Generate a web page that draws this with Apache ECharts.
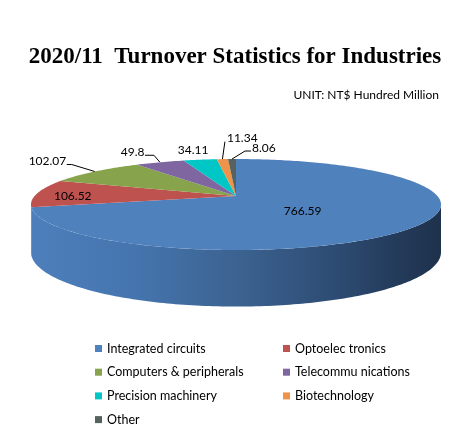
<!DOCTYPE html>
<html>
<head>
<meta charset="utf-8">
<script src="https://cdn.jsdelivr.net/npm/echarts@6/dist/echarts.min.js"></script>
<style>
  html, body { margin: 0; padding: 0; background: #fff; }
  #main { width: 470px; height: 440px; }
</style>
</head>
<body>
<div id="main"></div>
<script>
// data
const categories = ['Integrated circuits', 'Optoelec tronics', 'Computers & peripherals',
  'Telecommu nications', 'Precision machinery', 'Biotechnology', 'Other'];
const values = [766.59, 106.52, 102.07, 49.8, 34.11, 11.34, 8.06];
const valueLabels = ['766.59', '106.52', '102.07', '49.8', '34.11', '11.34', '8.06'];

// look
const colors = ['#4F81BD', '#BE524F', '#87A34B', '#7F66A1', '#00C6C6', '#F0934A', '#56625F'];
const sideColors = [null, '#A8433F', '#6F873C', '#67528A', '#00A0A0', '#C9773A', '#444E4C'];

// 3d pie geometry (perspective ellipse, angles clockwise from 12 o'clock)
const CX = 236, CY = 196, RX = 201.4, RY = 43.9, P = 0.187, H = 46;
const FRONT_L = Math.acos(-P) * 180 / Math.PI;   // right silhouette
const FRONT_R = 360 - FRONT_L;                   // left silhouette

// label placement relative to the slice edge point at the mid angle
const labelPlacement = [
  { inside: 0.4, text: [0, 4], align: 'center' },
  { inside: 0.8, text: [-4, 2], align: 'center' },
  { line: [[-23, -7], [-28, -7]], text: [-28.5, -10], align: 'right' },
  { line: [[-6, -7], [-15, -7]], text: [-15.5, -10], align: 'right' },
  { text: [-7, -10], align: 'center' },
  { line: [[2.5, -17.5]], text: [4.5, -21], align: 'left' },
  { line: [[13, -8], [19, -8]], text: [20, -10.5], align: 'left' }
];

const total = values.reduce((a, b) => a + b, 0);
const starts = [];
let acc = 0;
values.forEach(v => { starts.push(acc / total * 360); acc += v; });

function proj(deg, f, down) {
  const t = deg * Math.PI / 180;
  const s = 1 / (1 + P * f * Math.cos(t));
  return [CX + RX * f * Math.sin(t) * s, CY - RY * f * Math.cos(t) * s + (down || 0) * s];
}

function arc(a1, a2, f, down) {
  const pts = [];
  const n = Math.max(2, Math.ceil(Math.abs(a2 - a1)));
  for (let k = 0; k <= n; k++) pts.push(proj(a1 + (a2 - a1) * k / n, f, down));
  return pts;
}

const blueSide = new echarts.graphic.LinearGradient(CX - 205, 0, CX + 205, 0, [
  { offset: 0, color: '#4D7FBC' },
  { offset: 0.25, color: '#4575AE' },
  { offset: 0.5, color: '#3C6391' },
  { offset: 0.75, color: '#2D4B72' },
  { offset: 0.9, color: '#233A59' },
  { offset: 1, color: '#1E324D' }
], true);

function renderSlice(i) {
  const a1 = starts[i];
  const a2 = a1 + values[i] / total * 360;
  const children = [];

  // front wall
  const s1 = Math.max(a1, FRONT_L), s2 = Math.min(a2, FRONT_R);
  if (s2 > s1) {
    const top = arc(s1, s2, 1, 0);
    const bottom = arc(s2, s1, 1, H);
    children.push({
      type: 'polygon', z2: 1,
      shape: { points: top.concat(bottom) },
      style: { fill: i === 0 ? blueSide : sideColors[i], stroke: null }
    });
  }

  // top face
  children.push({
    type: 'polygon', z2: 2,
    shape: { points: [proj(0, 0)].concat(arc(a1, a2, 1, 0)) },
    style: { fill: colors[i], stroke: null }
  });

  // label
  const mid = (a1 + a2) / 2;
  const lp = labelPlacement[i];
  const base = lp.inside ? proj(mid, lp.inside) : proj(mid, 1);
  if (lp.line) {
    const pts = [base].concat(lp.line.map(d => [base[0] + d[0], base[1] + d[1]]));
    children.push({
      type: 'polyline', z2: 4,
      shape: { points: pts },
      style: { stroke: '#000', lineWidth: 1, fill: null }
    });
  }
  children.push({
    type: 'text', z2: 5,
    style: {
      text: valueLabels[i],
      x: base[0] + lp.text[0],
      y: base[1] + lp.text[1],
      fill: '#000',
      font: '12px Lato',
      align: lp.align,
      verticalAlign: 'middle'
    }
  });

  return { type: 'group', children: children };
}

const legendStyle = {
  orient: 'vertical',
  top: 342,
  padding: 0,
  itemWidth: 7,
  itemHeight: 7,
  itemGap: 10.7,
  icon: 'rect',
  selectedMode: false,
  textStyle: { fontFamily: 'Lato', fontSize: 12.5, color: '#000' }
};

const option = {
  animation: false,
  backgroundColor: '#fff',
  color: colors,
  title: {
    text: '2020/11  Turnover Statistics for Industries',
    left: 'center',
    top: 41,
    padding: [5, 10, 5, 5],
    textStyle: { fontFamily: 'Liberation Serif', fontWeight: 'bold', fontSize: 23, color: '#000' }
  },
  graphic: [{
    type: 'text',
    right: 31,
    top: 89,
    style: { text: 'UNIT: NT$ Hundred Million', font: '12px Lato', fill: '#000' }
  }],
  legend: [
    Object.assign({ left: 95, data: [categories[0], categories[2], categories[4], categories[6]] }, legendStyle),
    Object.assign({ left: 283, data: [categories[1], categories[3], categories[5]] }, legendStyle)
  ],
  series: categories.map((name, i) => ({
    type: 'custom',
    name: name,
    coordinateSystem: 'none',
    itemStyle: { color: colors[i] },
    data: [values[i]],
    renderItem: () => renderSlice(i)
  }))
};

const chart = echarts.init(document.getElementById('main'));
chart.setOption(option);
</script>
</body>
</html>
